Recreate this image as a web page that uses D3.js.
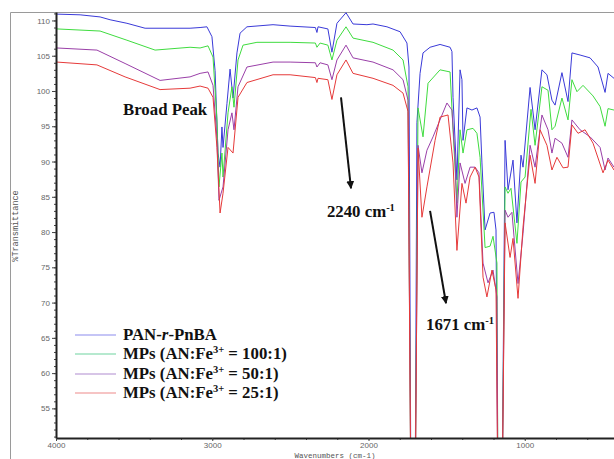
<!DOCTYPE html>
<html>
<meta charset="utf-8">
<title>FTIR spectra</title>
<style>
  body { margin: 0; background: #fff; }
  .tick text { font-family: "Liberation Sans", Arial, sans-serif; font-size: 8px; fill: #666; }
  .spec { fill: none; stroke-width: 1; stroke-linejoin: round; }
  .note { font-family: "Liberation Serif", "Times New Roman", serif; font-weight: bold; font-size: 16.8px; fill: #111; }
</style>
<body>
<div id="chart"></div>
<script src="https://d3js.org/d3.v7.min.js"></script>
<script>
// spectra: [wavenumber (cm-1), %T], values below the axis are cut off
var specPAN = [[3994,110.9],[3846,110.8],[3718,110.5],[3654,110.1],[3546,109.6],[3430,108.9],[3142,108.9],[3078,109.0],
  [3034,109.1],[3002,107.7],[2982,102.9],[2963,91.2],[2950,89.2],[2938,94.9],[2931,92.0],[2906,98.2],[2886,103.1],
  [2867,99.0],[2842,105.4],[2822,108.2],[2778,109.1],[2611,109.4],[2502,109.2],[2340,109.0],[2330,108.3],[2323,109.1],[2260,108.8],[2234,105.5],
  [2202,109.6],[2144,111.1],[2099,109.5],[2010,109.4],[1971,109.5],[1882,109.1],[1798,108.4],[1754,106.8],[1741,103.4],
  [1728,40],[1702,40],[1690,95.5],[1670,102.5],[1651,105.4],[1606,106.2],[1542,106.6],[1478,106.2],[1466,105.6],[1459,99.1],
  [1434,87.4],[1414,103.0],[1402,101.6],[1395,93.0],[1370,97.6],[1338,97.3],[1306,97.6],[1286,96.3],[1274,89.8],
  [1254,80.3],[1222,82.7],[1197,82.8],[1184,80.3],[1171,40],[1146,40],[1126,93.0],[1107,86.0],[1075,90.2],[1050,81.3],
  [1024,90.9],[1011,89.2],[966,100.5],[934,94.5],[890,103.0],[858,102.3],[826,98.7],[806,98.0],[762,102.6],[723,98.5],
  [698,105.4],[646,105.1],[582,104.7],[531,103.4],[486,99.8],[467,102.5],[429,101.8],[390,101.5]];

var spec100 = [[3994,108.8],[3718,108.5],[3546,107.2],[3366,105.8],[3142,106.2],[3078,106.1],[3027,106.4],[2995,104.8],
  [2970,95.9],[2957,86.4],[2938,91.2],[2931,87.8],[2899,96.9],[2874,100.6],[2861,97.7],[2835,104.4],[2803,106.5],
  [2714,106.9],[2502,106.9],[2340,106.8],[2330,106.2],[2310,106.8],[2260,106.5],[2234,104.4],[2202,107.2],[2144,109.1],[2099,107.5],[1971,106.9],
  [1843,105.8],[1779,104.4],[1747,100.6],[1728,40],[1702,40],[1683,97.6],[1651,93.5],[1619,101.1],[1542,103.0],
  [1478,102.7],[1459,94.5],[1434,84.1],[1414,94.5],[1395,91.2],[1370,94.5],[1331,94.7],[1306,94.0],[1286,90.6],
  [1254,77.8],[1222,78.0],[1203,79.4],[1178,75.6],[1171,40],[1146,40],[1126,86.4],[1107,85.5],[1088,86.2],[1050,78.4],
  [1024,87.1],[998,87.8],[960,97.4],[934,92.3],[890,100.6],[851,100.1],[826,94.5],[806,95.0],[762,99.0],[723,95.9],
  [698,101.6],[666,99.9],[627,100.8],[563,99.3],[518,97.8],[486,95.0],[467,97.5],[429,97.3],[390,97.0]];

var spec50 = [[3994,106.1],[3738,105.8],[3558,103.9],[3334,101.5],[3142,102.0],[3078,102.5],[3027,102.7],[2995,100.8],
  [2970,93.3],[2957,84.5],[2931,86.4],[2899,94.5],[2874,96.9],[2861,94.5],[2835,100.6],[2778,103.4],[2611,104.1],
  [2502,104.1],[2340,104.0],[2330,103.4],[2310,104.0],[2260,103.7],[2234,101.6],[2202,104.4],[2144,106.5],[2099,104.7],[1971,104.1],[1843,103.0],
  [1779,101.6],[1747,98.7],[1728,40],[1702,40],[1683,92.3],[1658,88.4],[1626,91.6],[1587,93.5],[1498,98.3],[1466,97.3],
  [1446,90.6],[1434,82.1],[1414,89.8],[1382,86.9],[1350,89.2],[1318,89.2],[1293,88.4],[1267,75.6],[1235,72.8],
  [1203,74.6],[1178,70.8],[1171,40],[1146,40],[1126,83.1],[1107,82.1],[1082,82.8],[1043,72.7],[1011,79.8],[966,92.3],
  [934,89.2],[890,96.6],[851,94.5],[826,91.2],[806,93.3],[762,92.6],[723,90.6],[698,95.9],[646,94.5],[582,93.5],
  [518,92.0],[486,88.8],[467,90.5],[429,89.2],[390,89.0]];

var spec25 = [[3994,104.1],[3738,103.7],[3558,102.0],[3334,100.2],[3142,100.4],[3078,100.7],[3027,100.4],[2995,99.1],
  [2970,92.0],[2950,82.7],[2931,85.5],[2899,92.0],[2867,91.2],[2835,99.1],[2778,101.2],[2611,102.3],[2502,102.3],
  [2340,101.9],[2330,101.2],[2323,101.8],[2260,101.6],[2234,98.8],[2202,102.3],[2144,104.4],[2099,102.5],[1971,101.8],[1843,100.8],[1779,99.7],
  [1747,97.1],[1728,40],[1702,40],[1683,91.9],[1658,82.1],[1626,86.4],[1574,93.0],[1542,96.3],[1491,96.6],[1459,89.8],
  [1434,77.4],[1402,86.9],[1376,84.1],[1350,87.8],[1318,89.2],[1293,87.8],[1267,73.6],[1242,70.8],[1210,74.6],
  [1184,71.8],[1171,40],[1146,40],[1126,81.3],[1094,76.4],[1075,79.1],[1043,70.6],[1011,80.7],[966,90.9],[934,86.9],
  [902,94.5],[858,92.3],[826,88.8],[794,90.6],[755,89.1],[723,89.2],[698,95.2],[659,94.0],[614,94.5],[563,92.6],
  [499,88.4],[467,90.2],[429,88.8],[390,88.5]];

var seriesNames = ["PAN-r-PnBA", "MPs (AN:Fe3+ = 100:1)", "MPs (AN:Fe3+ = 50:1)", "MPs (AN:Fe3+ = 25:1)"];
var seriesColors = ["#3a3ad8", "#3fdc3f", "#9a3fa8", "#e63a3a"];
var legendColors = ["#8c8cee", "#6fd3a0", "#b08ccf", "#ee8a8a"];
var ratios = ["100:1", "50:1", "25:1"];

var yMajor = [55, 60, 65, 70, 75, 80, 85, 90, 95, 100, 105, 110];
var xMajor = [4000, 3000, 2000, 1000];

var W = 614, H = 459;
var x = d3.scaleLinear().domain([4000, 400]).range([56, 618.5]);
var y = d3.scaleLinear().domain([50.8, 111.2]).range([438, 12]);

var svg = d3.select("#chart").append("svg")
    .attr("width", W)
    .attr("height", H);

// outer frame
svg.append("path")
    .attr("d", "M10.5," + H + "V12.5H" + W)
    .attr("fill", "none")
    .attr("stroke", "#9a9a9a")
    .attr("stroke-width", 1);

svg.append("clipPath").attr("id", "plotclip")
  .append("rect")
    .attr("x", 56).attr("y", 12)
    .attr("width", W - 56).attr("height", 426);

var spectra = [specPAN, spec100, spec50, spec25];
var line = d3.line()
    .x(function(d) { return x(d[0]); })
    .y(function(d) { return y(d[1]); });

svg.append("g")
    .attr("clip-path", "url(#plotclip)")
  .selectAll("path")
    .data(spectra)
  .enter().append("path")
    .attr("class", "spec")
    .attr("d", line)
    .attr("stroke", function(d, i) { return seriesColors[i]; });

// y axis, minor + major
var yMinorAxis = svg.append("g")
    .attr("transform", "translate(56,0)")
    .call(d3.axisLeft(y).tickValues(d3.range(51, 112, 1)).tickSize(2).tickFormat(""));
yMinorAxis.select(".domain").remove();
yMinorAxis.selectAll("line").attr("stroke", "#444");

var yAxis = svg.append("g")
    .attr("transform", "translate(56,0)")
    .call(d3.axisLeft(y).tickValues(yMajor).tickSize(4).tickPadding(2).tickSizeOuter(0));
yAxis.select(".domain").attr("stroke", "#222").attr("stroke-width", 2);
yAxis.selectAll("line").attr("stroke", "#444");

// x axis
var xMinorAxis = svg.append("g")
    .attr("transform", "translate(0,438)")
    .call(d3.axisBottom(x).tickValues(d3.range(3800, 400, -200)).tickSize(2).tickFormat(""));
xMinorAxis.select(".domain").remove();
xMinorAxis.selectAll("line").attr("stroke", "#444");

var xAxis = svg.append("g")
    .attr("transform", "translate(0,438)")
    .call(d3.axisBottom(x).tickValues(xMajor).tickSize(3).tickPadding(1).tickSizeOuter(0).tickFormat(d3.format("d")));
xAxis.select(".domain").attr("stroke", "#222").attr("stroke-width", 2);
xAxis.selectAll("line").attr("stroke", "#444");

svg.append("text")
    .attr("x", 335).attr("y", 458)
    .attr("text-anchor", "middle")
    .style("font-family", "'Liberation Mono', monospace")
    .style("font-size", "7.5px")
    .style("fill", "#555")
    .text("Wavenumbers (cm-1)");

svg.append("text")
    .attr("transform", "translate(18,226) rotate(-90)")
    .attr("text-anchor", "middle")
    .style("font-family", "'Liberation Mono', monospace")
    .style("font-size", "8.5px")
    .style("fill", "#555")
    .text("%Transmittance");

// annotations
svg.append("defs").append("marker")
    .attr("id", "head")
    .attr("viewBox", "0 0 10 10")
    .attr("refX", 9).attr("refY", 5)
    .attr("markerWidth", 4).attr("markerHeight", 4)
    .attr("orient", "auto")
  .append("path")
    .attr("d", "M0,0L10,5L0,10z")
    .attr("fill", "#111");

var arrows = [
  {from: [2176, 99.1], to: [2112, 86.2]},
  {from: [1606, 83.0], to: [1504, 69.9]}
];
svg.selectAll(".arrow")
    .data(arrows)
  .enter().append("line")
    .attr("class", "arrow")
    .attr("x1", function(d) { return x(d.from[0]); })
    .attr("y1", function(d) { return y(d.from[1]); })
    .attr("x2", function(d) { return x(d.to[0]); })
    .attr("y2", function(d) { return y(d.to[1]); })
    .attr("stroke", "#111")
    .attr("stroke-width", 2)
    .attr("marker-end", "url(#head)");

svg.append("text").attr("class", "note")
    .attr("x", x(3571)).attr("y", y(96.6))
    .text("Broad Peak");

var bands = [{label: "2240", at: [2266, 82.1]}, {label: "1671", at: [1632, 66.1]}];
bands.forEach(function(b) {
  var t = svg.append("text").attr("class", "note")
      .attr("x", x(b.at[0])).attr("y", y(b.at[1]));
  t.append("tspan").text(b.label + " cm");
  t.append("tspan").attr("dy", -6).style("font-size", "10.5px").text("-1");
});

// legend
var legend = svg.append("g").attr("class", "legend");
var ly = [335, 354, 374, 393];
seriesNames.forEach(function(name, i) {
  legend.append("line")
      .attr("x1", 75).attr("x2", 116)
      .attr("y1", ly[i]).attr("y2", ly[i])
      .attr("stroke", legendColors[i])
      .attr("stroke-width", 1.2);
  var t = legend.append("text").attr("class", "note")
      .attr("x", 123).attr("y", ly[i] + 5);
  if (i == 0) {
    t.append("tspan").text("PAN-");
    t.append("tspan").style("font-style", "italic").text("r");
    t.append("tspan").text("-PnBA");
  } else {
    t.append("tspan").text("MPs (AN:Fe");
    t.append("tspan").attr("dy", -6).style("font-size", "10.5px").text("3+");
    t.append("tspan").attr("dy", 6).text(" = " + ratios[i - 1] + ")");
  }
});
</script>
</body>
</html>
